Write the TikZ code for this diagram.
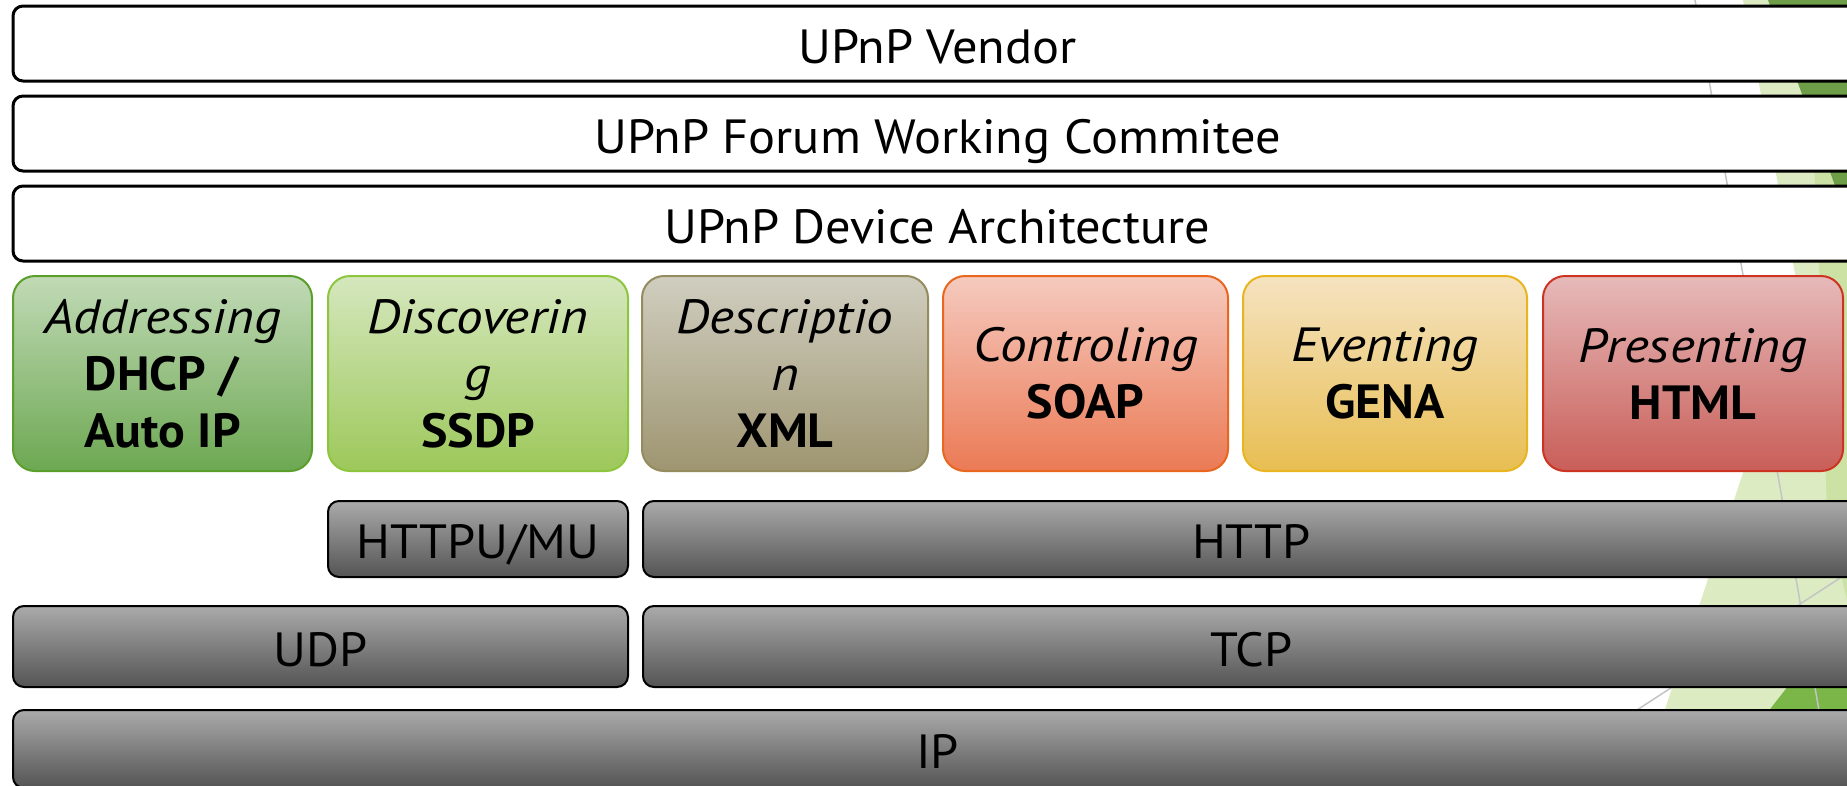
\documentclass[tikz,border=0pt]{standalone}
\usepackage{fontspec}
\setmainfont{PT Sans}[FakeStretch=1.05,
  ItalicFeatures={FakeStretch=1.11},
  BoldFeatures={FakeStretch=1.04},
  BoldItalicFeatures={FakeStretch=1.08}]
\definecolor{grayT}{HTML}{AAAAAA}
\definecolor{grayB}{HTML}{545454}
\definecolor{bgLight}{HTML}{DDEBC3}
\definecolor{bgMed}{HTML}{CCE2A4}
\definecolor{bgDarkT}{HTML}{6E9E48}
\definecolor{bgDarkB}{HTML}{7AB648}
\definecolor{bgLine}{HTML}{C4C4C4}
\definecolor{adB}{HTML}{5A9E2B}\definecolor{adT}{HTML}{C1DAB6}\definecolor{adD}{HTML}{6DA852}
\definecolor{diB}{HTML}{8CC63E}\definecolor{diT}{HTML}{D5E7BE}\definecolor{diD}{HTML}{9DC85A}
\definecolor{deB}{HTML}{948B5E}\definecolor{deT}{HTML}{D0CEC0}\definecolor{deD}{HTML}{9E9570}
\definecolor{coB}{HTML}{E8661E}\definecolor{coT}{HTML}{F5CABF}\definecolor{coD}{HTML}{EB7A55}
\definecolor{evB}{HTML}{E8B520}\definecolor{evT}{HTML}{F5E3C1}\definecolor{evD}{HTML}{E8BE52}
\definecolor{prB}{HTML}{CC3322}\definecolor{prT}{HTML}{E6BABA}\definecolor{prD}{HTML}{C95E58}
\begin{document}
\begin{tikzpicture}[x=1pt,y=-1pt,
  lbl/.style={font=\fontsize{48}{57}\selectfont, text=black, inner sep=0pt},
  whitebox/.style={lbl, draw=black, line width=3pt, fill=white, rounded corners=10pt,
    text height=39pt, text depth=0pt},
  graybox/.style={lbl, draw=black, line width=2pt, rounded corners=11pt,
    top color=grayT, bottom color=grayB, text height=39pt, text depth=0pt},
  colbox/.style n args={3}{lbl, draw=#1, line width=2pt, rounded corners=22pt,
    top color=#2, bottom color=#3, align=center, minimum height=195pt},
  bgline/.style={draw=bgLine, line width=1.5pt}
]
\useasboundingbox (0,0) rectangle (1847,785);
\clip (0,0) rectangle (1847,785);
\fill[white] (0,0) rectangle (1847,785);
% background decoration
\fill[bgLight] (1743,0) -- (1800,300) -- (1640,785) -- (1847,785) -- (1847,0) -- cycle;
\fill[bgMed] (1812,120) -- (1822,330) -- (1827,520) -- (1847,600) -- (1847,120) -- cycle;
\fill[bgDarkT] (1768,0) -- (1847,219) -- (1847,0) -- cycle;
\fill[bgDarkB] (1855,600) -- (1711,785) -- (1855,785) -- cycle;
\draw[bgline] (1695,0) -- (1832,785);
\draw[bgline] (1860,565) -- (1560,760);
% top white layers
\node[whitebox, minimum width=1849pt, minimum height=75pt] (vendor) at (937.5,43.5) {UPnP Vendor};
\node[whitebox, minimum width=1849pt, minimum height=75pt] (forum) at (937.5,133.5) {UPnP Forum Working Commitee};
\node[whitebox, minimum width=1849pt, minimum height=75pt] (arch) at (937.5,223.5) {UPnP Device Architecture};
% coloured protocol boxes
\node[colbox={adB}{adT}{adD}, minimum width=299pt] (addr) at (162.5,373.5) {\textit{Addressing}\\\textbf{DHCP /}\\\textbf{Auto IP}};
\node[colbox={diB}{diT}{diD}, minimum width=300pt] (disc) at (478,373.5) {\textit{Discoverin}\\\textit{g}\\\textbf{SSDP}};
\node[colbox={deB}{deT}{deD}, minimum width=286pt] (desc) at (785,373.5) {\textit{Descriptio}\\\textit{n}\\\textbf{XML}};
\node[colbox={coB}{coT}{coD}, minimum width=285pt] (ctrl) at (1085.5,373.5) {\textit{Controling}\\\textbf{SOAP}};
\node[colbox={evB}{evT}{evD}, minimum width=284pt] (event) at (1385,373.5) {\textit{Eventing}\\\textbf{GENA}};
\node[colbox={prB}{prT}{prD}, minimum width=300pt] (pres) at (1693,373.5) {\textit{Presenting}\\\textbf{HTML}};
% gray transport layers
\node[graybox, minimum width=300pt, minimum height=76pt] (httpu) at (478,539) {HTTPU/MU};
\node[graybox, minimum width=1217pt, minimum height=76pt] (http) at (1251.5,539) {HTTP};
\node[graybox, minimum width=615pt, minimum height=81pt] (udp) at (320.5,646.5) {UDP};
\node[graybox, minimum width=1217pt, minimum height=81pt] (tcp) at (1251.5,646.5) {TCP};
\node[graybox, minimum width=1849pt, minimum height=78pt] (ip) at (937.5,749) {IP};
\end{tikzpicture}
\end{document}
